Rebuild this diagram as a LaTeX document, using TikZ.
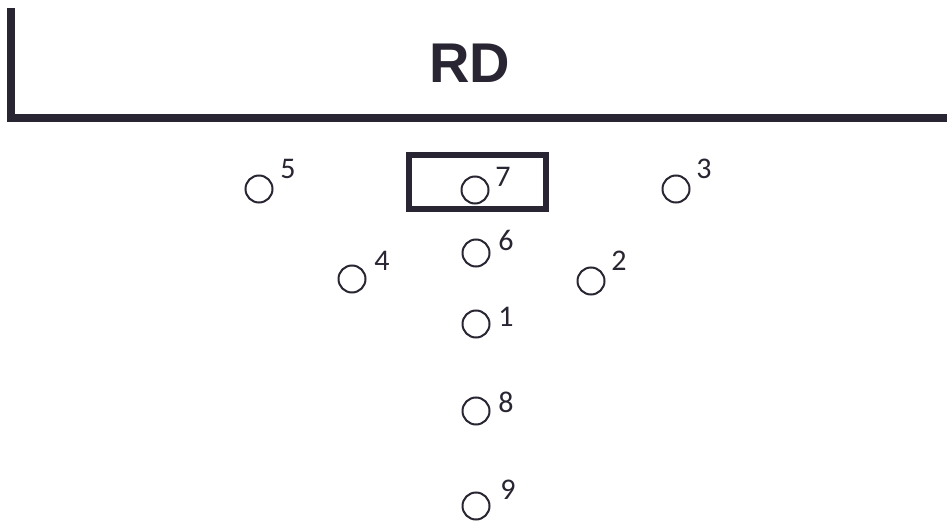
\documentclass[tikz,border=0pt]{standalone}
\usepackage{fontspec}
\setmainfont{Carlito}
\newfontfamily\rdfont{Liberation Sans}
\definecolor{ink}{RGB}{42,37,50}
\begin{document}
\begin{tikzpicture}[x=1pt,y=-1pt,
  spot/.style={draw=ink,circle,line width=2pt,minimum size=27pt,inner sep=0pt},
  num/.style={text=ink,inner sep=0pt,font=\fontsize{30}{32}\selectfont}]
\useasboundingbox (0,0) rectangle (947,521);
\fill[white] (0,0) rectangle (947,521);
% field line
\draw[ink,line width=8pt] (11,8) -- (11,118) -- (947,118);
\node[text=ink,font=\rdfont\bfseries\fontsize{56}{60}\selectfont,inner sep=0pt] (rd) at (470,63) {RD};
% box
\node[draw=ink,line width=6pt,minimum width=137pt,minimum height=54pt,inner sep=0pt] (box7) at (477.5,182) {};
% players
\node[spot] (p5) at (259,189) {};
\node[num] (l5) at (288,169) {5};
\node[spot] (p7) at (475,190) {};
\node[num] (l7) at (503,177) {7};
\node[spot] (p3) at (676,189) {};
\node[num] (l3) at (704,169) {3};
\node[spot] (p6) at (476,253) {};
\node[num] (l6) at (506,240) {6};
\node[spot] (p4) at (352,279) {};
\node[num] (l4) at (382,261) {4};
\node[spot] (p2) at (591,281) {};
\node[num] (l2) at (619,261) {2};
\node[spot] (p1) at (476,324) {};
\node[num] (l1) at (506,317) {1};
\node[spot] (p8) at (476,411) {};
\node[num] (l8) at (506,402) {8};
\node[spot] (p9) at (476,506) {};
\node[num] (l9) at (508,490) {9};
\end{tikzpicture}
\end{document}
